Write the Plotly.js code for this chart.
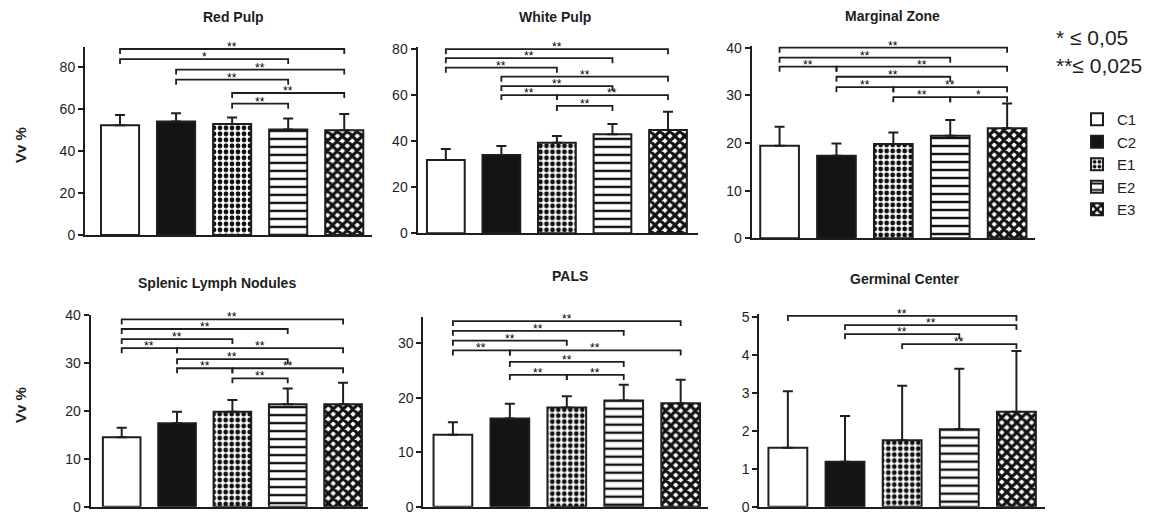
<!DOCTYPE html>
<html>
<head>
<meta charset="utf-8">
<script src="https://cdn.plot.ly/plotly-3.0.1.min.js"></script>
<style>html,body{margin:0;padding:0;background:#fff}#chart{width:1156px;height:514px}</style>
</head>
<body>
<div id="chart"></div>
<script>
// ---------- data ----------
const groups = ['C1', 'C2', 'E1', 'E2', 'E3'];
const panelTitles = ['Red Pulp', 'White Pulp', 'Marginal Zone', 'Splenic Lymph Nodules', 'PALS', 'Germinal Center'];

const redPulpMean = [52.2, 54.0, 52.8, 50.2, 49.8];
const redPulpSD   = [4.8, 3.9, 3.0, 5.2, 7.7];
const redPulpSig  = [[0, 4, 88.4, '**'], [0, 3, 83.6, '*'], [1, 4, 78.6, '**'], [1, 3, 73.8, '**'], [2, 4, 67.5, '**'], [2, 3, 62.4, '**']];

const whitePulpMean = [31.8, 34.0, 39.3, 43.0, 44.8];
const whitePulpSD   = [4.8, 3.9, 2.9, 4.4, 8.0];
const whitePulpSig  = [[0, 4, 79.9, '**'], [0, 3, 76.0, '**'], [0, 2, 71.9, '**'], [1, 4, 68.0, '**'], [1, 3, 63.9, '**'], [1, 2, 60.0, '**'], [2, 4, 60.0, '**'], [2, 3, 55.3, '**']];

const marginalMean = [19.4, 17.3, 19.8, 21.5, 23.1];
const marginalSD   = [4.0, 2.6, 2.4, 3.3, 5.2];
const marginalSig  = [[0, 4, 40.0, '**'], [0, 3, 37.9, '**'], [0, 1, 36.0, '**'], [1, 4, 36.0, '**'], [1, 3, 33.9, '**'], [1, 2, 31.7, '**'], [2, 4, 31.7, '**'], [2, 3, 29.6, '**'], [3, 4, 29.6, '*']];

const lymphMean = [14.5, 17.4, 19.8, 21.4, 21.4];
const lymphSD   = [2.0, 2.4, 2.5, 3.3, 4.5];
const lymphSig  = [[0, 4, 39.1, '**'], [0, 3, 37.1, '**'], [0, 2, 35.0, '**'], [0, 1, 33.1, '**'], [1, 4, 33.1, '**'], [1, 3, 30.8, '**'], [1, 2, 28.9, '**'], [2, 4, 28.9, '**'], [2, 3, 26.8, '**']];

const palsMean = [13.2, 16.2, 18.2, 19.5, 19.0];
const palsSD   = [2.3, 2.7, 2.1, 2.9, 4.3];
const palsSig  = [[0, 4, 34.1, '**'], [0, 3, 32.3, '**'], [0, 2, 30.5, '**'], [0, 1, 28.7, '**'], [1, 4, 28.7, '**'], [1, 3, 26.6, '**'], [1, 2, 24.2, '**'], [2, 3, 24.2, '**']];

const germinalMean = [1.55, 1.18, 1.75, 2.04, 2.50];
const germinalSD   = [1.49, 1.21, 1.43, 1.59, 1.60];
const germinalSig  = [[0, 4, 5.02, '**'], [1, 4, 4.78, '**'], [1, 3, 4.54, '**'], [2, 4, 4.28, '**']];

const yTickStep = [20, 20, 10, 10, 10, 1];

// ---------- layout geometry (pixels in a 1156x514 figure) ----------
const W = 1156, H = 514;
// bottom: pixel row of value 0, ppu: pixels per data unit, ymax: top of axis line
const boxes = [
  {x0: 85,    x1: 371.7, bottom: 235,   ppu: 2.104, ymax: 89.4, xr: [-0.625, 4.49], tx: 233, ty: 17},
  {x0: 417.5, x1: 698,   bottom: 233.3, ppu: 2.304, ymax: 80.9, xr: [-0.51, 4.54],  tx: 555, ty: 17},
  {x0: 751.7, x1: 1035,  bottom: 238.3, ppu: 4.766, ymax: 40.35, xr: [-0.49, 4.49], tx: 892, ty: 16},
  {x0: 90.7,  x1: 368,   bottom: 506.7, ppu: 4.79,  ymax: 40.0, xr: [-0.56, 4.45],  tx: 217, ty: 283},
  {x0: 423.3, x1: 708,   bottom: 506.7, ppu: 5.444, ymax: 34.9, xr: [-0.52, 4.48],  tx: 570, ty: 276},
  {x0: 759.3, x1: 1045,  bottom: 506.7, ppu: 38.0,  ymax: 5.08, xr: [-0.5, 4.5],    tx: 905, ty: 279}
];

const panels = [
  {mean: redPulpMean, sd: redPulpSD, sig: redPulpSig},
  {mean: whitePulpMean, sd: whitePulpSD, sig: whitePulpSig},
  {mean: marginalMean, sd: marginalSD, sig: marginalSig},
  {mean: lymphMean, sd: lymphSD, sig: lymphSig},
  {mean: palsMean, sd: palsSD, sig: palsSig},
  {mean: germinalMean, sd: germinalSD, sig: germinalSig}
];

const ink = '#1e1e1e';
const groupStyle = [
  {color: '#ffffff', pattern: {shape: ''}},
  {color: '#141414', pattern: {shape: ''}},
  {color: '#ffffff', pattern: {shape: '.', fgcolor: '#111', bgcolor: '#fff', fgopacity: 1, size: 6, solidity: 0.5, fillmode: 'replace'}},
  {color: '#ffffff', pattern: {shape: '-', fgcolor: '#111', bgcolor: '#fff', fgopacity: 1, size: 8, solidity: 0.3, fillmode: 'replace'}},
  {color: '#ffffff', pattern: {shape: 'x', fgcolor: '#111', bgcolor: '#fff', fgopacity: 1, size: 7, solidity: 0.7, fillmode: 'replace'}}
];

const traces = [];
const annotations = [];
const layout = {
  width: W, height: H,
  margin: {l: 0, r: 0, t: 0, b: 0},
  paper_bgcolor: '#fff', plot_bgcolor: 'rgba(0,0,0,0)',
  font: {family: 'Liberation Sans, Arial, sans-serif', color: ink},
  barmode: 'overlay',
  showlegend: true,
  legend: {x: 1077 / W, y: 1 - 103 / H, xanchor: 'left', yanchor: 'top', font: {size: 15, color: ink},
           bgcolor: 'rgba(0,0,0,0)', itemwidth: 30, tracegroupgap: 0},
  annotations: annotations
};

panels.forEach((p, k) => {
  const b = boxes[k];
  const top = b.bottom - b.ymax * b.ppu;
  const sfx = k === 0 ? '' : String(k + 1);
  const xa = 'x' + sfx, ya = 'y' + sfx;
  layout['xaxis' + sfx] = {
    domain: [b.x0 / W, b.x1 / W], range: b.xr, anchor: ya,
    showline: true, linecolor: ink, linewidth: 2, ticks: '', showticklabels: false,
    showgrid: false, zeroline: false, fixedrange: true
  };
  layout['yaxis' + sfx] = {
    domain: [1 - b.bottom / H, 1 - top / H], range: [0, b.ymax], anchor: xa,
    showline: true, linecolor: ink, linewidth: 2, ticks: 'outside', ticklen: 5, tickwidth: 2, tickcolor: ink,
    dtick: yTickStep[k], tick0: 0, tickfont: {size: 14, color: ink}, ticklabeloverflow: 'allow',
    showgrid: false, zeroline: false, fixedrange: true
  };
  groups.forEach((g, i) => {
    traces.push({
      type: 'bar', x: [i], y: [p.mean[i]], xaxis: xa, yaxis: ya, width: 0.68,
      name: g, legendgroup: g, showlegend: k === 0,
      marker: {color: groupStyle[i].color, line: {color: ink, width: 2}, pattern: groupStyle[i].pattern},
      error_y: {type: 'data', symmetric: false, array: [p.sd[i]], arrayminus: [0], color: ink, thickness: 2, width: 5},
      hoverinfo: 'skip'
    });
  });
  const drop = 5 / b.ppu;
  p.sig.forEach(s => {
    const [a, c, h, lab] = s;
    traces.push({
      type: 'scatter', mode: 'lines', x: [a, a, c, c], y: [h - drop, h, h, h - drop],
      xaxis: xa, yaxis: ya, line: {color: ink, width: 1.8}, cliponaxis: false,
      showlegend: false, hoverinfo: 'skip'
    });
    annotations.push({
      x: (a + c) / 2, y: h, xref: xa, yref: ya, text: lab, showarrow: false,
      yanchor: 'middle', yshift: 2, font: {size: 12, color: '#000'}
    });
  });
  annotations.push({
    x: b.tx / W, y: 1 - b.ty / H, xref: 'paper', yref: 'paper', text: '<b>' + panelTitles[k] + '</b>',
    showarrow: false, xanchor: 'center', yanchor: 'middle', font: {size: 14, color: ink}
  });
});

// y-axis titles (one per row)
[145, 405].forEach(yy => {
  annotations.push({x: 20 / W, y: 1 - yy / H, xref: 'paper', yref: 'paper', text: '<b>Vv %</b>',
    textangle: -90, showarrow: false, xanchor: 'center', yanchor: 'middle', font: {size: 15, color: ink}});
});
// significance key
annotations.push({x: 1054 / W, y: 1 - 38 / H, xref: 'paper', yref: 'paper', text: '* ≤ 0,05',
  showarrow: false, xanchor: 'left', yanchor: 'middle', font: {size: 21, color: ink}});
annotations.push({x: 1054 / W, y: 1 - 65 / H, xref: 'paper', yref: 'paper', text: '**≤ 0,025',
  showarrow: false, xanchor: 'left', yanchor: 'middle', font: {size: 21, color: ink}});

Plotly.newPlot('chart', traces, layout, {displayModeBar: false, staticPlot: true});
</script>
</body>
</html>
